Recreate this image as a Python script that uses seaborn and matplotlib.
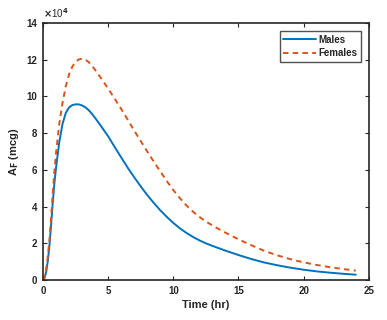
import numpy as np
import pandas as pd
import seaborn as sns
import matplotlib.pyplot as plt
from matplotlib.ticker import FuncFormatter

# values (units of 1e4 mcg)
time_m = [0, 0.125, 0.25, 0.375, 0.5, 0.625, 0.75, 0.875, 1.0, 1.25, 1.5, 1.75, 2.0, 2.25, 2.5,
          2.75, 3.0, 3.25, 3.5, 3.75, 4.0, 4.5, 5, 5.5, 6, 6.5, 7, 7.5, 8, 8.5, 9, 9.5, 10,
          10.5, 11, 11.5, 12, 12.5, 13, 14, 15, 16, 17, 18, 19, 20, 21, 22, 23, 24]
males = [0, 0.12, 0.45, 1.05, 1.9, 3.0, 4.2, 5.25, 6.1, 7.5, 8.5, 9.1, 9.4, 9.53, 9.57,
         9.57, 9.51, 9.41, 9.26, 9.06, 8.83, 8.34, 7.83, 7.25, 6.68, 6.12, 5.6, 5.1, 4.63,
         4.2, 3.8, 3.44, 3.11, 2.82, 2.57, 2.35, 2.16, 2.0, 1.86, 1.6, 1.36, 1.14, 0.95,
         0.8, 0.67, 0.56, 0.47, 0.40, 0.34, 0.29]
time_f = [0, 0.125, 0.25, 0.375, 0.5, 0.625, 0.75, 0.875, 1.0, 1.25, 1.5, 1.75, 2.0, 2.25, 2.5,
          2.75, 3.0, 3.25, 3.5, 3.75, 4.0, 4.5, 5, 5.5, 6, 6.5, 7, 7.5, 8, 8.5, 9, 9.5, 10,
          10.5, 11, 11.5, 12, 12.5, 13, 13.5, 14, 15, 16, 17, 18, 19, 20, 21, 22, 23, 24]
females = [0, 0.17, 0.6, 1.3, 2.2, 3.4, 4.7, 5.9, 6.9, 8.5, 9.65, 10.55, 11.2, 11.62, 11.88,
           12.02, 12.05, 12.0, 11.88, 11.68, 11.45, 10.95, 10.43, 9.88, 9.32, 8.74, 8.14,
           7.57, 7.0, 6.45, 5.92, 5.39, 4.9, 4.46, 4.07, 3.73, 3.44, 3.19, 2.97, 2.77, 2.58,
           2.22, 1.89, 1.58, 1.34, 1.13, 0.96, 0.82, 0.7, 0.6, 0.51]

df = pd.concat([
    pd.DataFrame({"Time": time_m, "AF": np.array(males) * 1e4, "Group": "Males"}),
    pd.DataFrame({"Time": time_f, "AF": np.array(females) * 1e4, "Group": "Females"}),
])

sns.set_theme(style="ticks")
plt.rcParams['font.family'] = ['Liberation Sans', 'DejaVu Sans']
plt.rcParams['font.weight'] = 'bold'
plt.rcParams['mathtext.default'] = 'bf'

axc = '#262626'
fig = plt.figure(figsize=(3.87, 3.2), dpi=100)
ax = fig.add_axes([0.111, 0.125, 0.842, 0.803])

sns.lineplot(data=df, x="Time", y="AF", hue="Group", style="Group",
             palette={"Males": "#0072BD", "Females": "#D95319"},
             dashes={"Males": (None, None), "Females": (2.8, 2.2)},
             linewidth=1.4, ax=ax, sort=False)

ax.set_xlim(0, 25)
ax.set_ylim(0, 14e4)
ax.set_xticks(np.arange(0, 26, 5))
ax.set_yticks(np.arange(0, 14.1e4, 2e4))
ax.yaxis.set_major_formatter(FuncFormatter(lambda v, p: f"{v / 1e4:g}"))
ax.tick_params(direction='in', length=3, width=0.8, top=True, right=True,
               labelsize=7, colors=axc, pad=4)
for s in ax.spines.values():
    s.set_color(axc)
    s.set_linewidth(1.2)
ax.set_xlabel("Time (hr)", fontsize=8, fontweight='bold', color=axc, labelpad=3)
ax.set_ylabel(r"A$_F$ (mcg)", fontsize=8, fontweight='bold', color=axc, labelpad=4)
ax.text(0.0, 1.01, r"$\times$10$^4$", transform=ax.transAxes, fontsize=7,
        color=axc, ha='left', va='bottom', fontweight='normal')

leg = ax.legend(title=None, loc='upper right', fontsize=7, frameon=True, fancybox=False,
                handlelength=3.4, handletextpad=0.2, borderpad=0.35, labelspacing=0.35,
                borderaxespad=0.85)
leg.get_frame().set_edgecolor(axc)
leg.get_frame().set_linewidth(1.0)

fig.savefig("out.png", dpi=100)
